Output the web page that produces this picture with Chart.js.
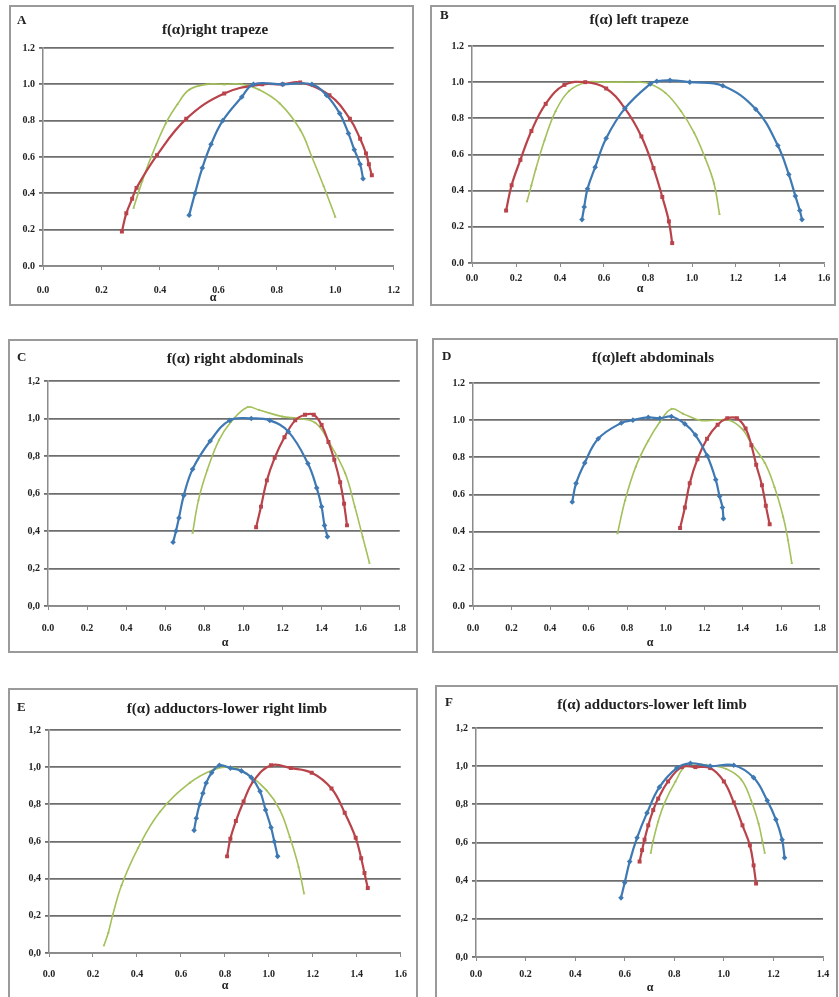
<!DOCTYPE html>
<html>
<head>
<meta charset="utf-8">
<script src="https://cdn.jsdelivr.net/npm/chart.js@4.4.0/dist/chart.umd.min.js"></script>
<style>
  body { margin: 0; background: #fff; width: 839px; height: 997px; position: relative; overflow: hidden; }
  canvas { position: absolute; }
</style>
</head>
<body>
<script>
// series: [alpha, f(alpha)]
// A - right trapeze
const aBlue = [[0.50,0.28],[0.52,0.40],[0.545,0.54],[0.575,0.67],[0.615,0.80],[0.68,0.93],[0.72,1.0],[0.82,1.0],[0.92,1.0],[0.97,0.94],[1.015,0.84],[1.045,0.73],[1.065,0.64],[1.085,0.56],[1.095,0.48]];
const aRed = [[0.27,0.19],[0.285,0.29],[0.305,0.37],[0.32,0.43],[0.39,0.61],[0.49,0.81],[0.62,0.95],[0.75,1.0],[0.82,1.0],[0.88,1.01],[0.98,0.94],[1.05,0.81],[1.085,0.70],[1.105,0.62],[1.115,0.56],[1.125,0.50]];
const aGreen = [[0.31,0.32],[0.34,0.47],[0.37,0.60],[0.42,0.785],[0.46,0.89],[0.50,0.97],[0.56,1.0],[0.62,1.0],[0.68,1.0],[0.74,0.97],[0.81,0.895],[0.88,0.75],[0.92,0.60],[0.96,0.44],[1.0,0.27]];
// B - left trapeze
const bBlue = [[0.50,0.24],[0.51,0.31],[0.525,0.41],[0.56,0.53],[0.61,0.69],[0.695,0.855],[0.81,0.99],[0.84,1.005],[0.90,1.01],[0.99,1.0],[1.14,0.98],[1.29,0.85],[1.39,0.65],[1.44,0.49],[1.47,0.37],[1.49,0.29],[1.50,0.24]];
const bRed = [[0.155,0.29],[0.18,0.43],[0.22,0.57],[0.27,0.73],[0.335,0.88],[0.42,0.985],[0.515,1.0],[0.61,0.965],[0.695,0.855],[0.77,0.70],[0.825,0.525],[0.865,0.365],[0.895,0.23],[0.91,0.11]];
const bGreen = [[0.25,0.34],[0.27,0.43],[0.29,0.52],[0.33,0.68],[0.38,0.84],[0.44,0.95],[0.52,1.0],[0.60,1.0],[0.68,1.0],[0.76,1.0],[0.81,0.99],[0.88,0.94],[0.95,0.84],[1.01,0.72],[1.06,0.58],[1.10,0.44],[1.125,0.27]];
// C - right abdominals
const cBlue = [[0.64,0.34],[0.655,0.40],[0.67,0.47],[0.695,0.59],[0.74,0.73],[0.83,0.88],[0.93,0.99],[1.04,1.0],[1.135,0.99],[1.23,0.93],[1.33,0.76],[1.375,0.63],[1.40,0.53],[1.415,0.43],[1.43,0.37]];
const cRed = [[1.065,0.42],[1.09,0.53],[1.12,0.67],[1.16,0.79],[1.21,0.90],[1.265,0.99],[1.315,1.02],[1.36,1.02],[1.40,0.965],[1.435,0.875],[1.465,0.78],[1.495,0.66],[1.515,0.545],[1.53,0.43]];
const cGreen = [[0.74,0.39],[0.77,0.565],[0.815,0.725],[0.875,0.885],[0.935,0.98],[1.02,1.06],[1.08,1.045],[1.20,1.01],[1.28,1.0],[1.37,0.975],[1.44,0.87],[1.52,0.71],[1.57,0.53],[1.61,0.37],[1.645,0.23]];
// D - left abdominals
const dBlue = [[0.515,0.56],[0.535,0.66],[0.58,0.77],[0.65,0.90],[0.77,0.985],[0.83,1.0],[0.91,1.015],[0.97,1.01],[1.03,1.02],[1.10,0.98],[1.155,0.92],[1.215,0.81],[1.26,0.68],[1.28,0.59],[1.295,0.53],[1.30,0.47]];
const dRed = [[1.075,0.42],[1.10,0.53],[1.125,0.66],[1.165,0.79],[1.215,0.90],[1.27,0.975],[1.32,1.01],[1.37,1.01],[1.415,0.955],[1.445,0.865],[1.47,0.76],[1.50,0.65],[1.52,0.54],[1.54,0.44]];
const dGreen = [[0.75,0.39],[0.79,0.57],[0.845,0.75],[0.91,0.89],[0.97,0.99],[1.03,1.06],[1.09,1.035],[1.175,1.0],[1.26,1.0],[1.33,1.0],[1.395,0.955],[1.445,0.875],[1.515,0.77],[1.565,0.64],[1.61,0.48],[1.635,0.355],[1.655,0.23]];
// E - adductors, lower right limb
const eBlue = [[0.66,0.66],[0.67,0.725],[0.685,0.80],[0.70,0.86],[0.715,0.915],[0.74,0.97],[0.775,1.01],[0.825,0.995],[0.875,0.98],[0.92,0.945],[0.96,0.87],[0.985,0.77],[1.01,0.675],[1.025,0.60],[1.04,0.52]];
const eRed = [[0.81,0.52],[0.825,0.615],[0.85,0.71],[0.885,0.815],[0.93,0.925],[1.01,1.01],[1.10,0.995],[1.195,0.97],[1.285,0.885],[1.345,0.755],[1.395,0.62],[1.42,0.51],[1.435,0.43],[1.45,0.35]];
const eGreen = [[0.25,0.04],[0.27,0.11],[0.29,0.205],[0.33,0.365],[0.405,0.565],[0.505,0.76],[0.64,0.915],[0.745,0.985],[0.825,1.0],[0.90,0.965],[0.99,0.875],[1.05,0.77],[1.095,0.625],[1.135,0.465],[1.16,0.32]];
// F - adductors, lower left limb
const fBlue = [[0.585,0.31],[0.60,0.39],[0.62,0.50],[0.65,0.625],[0.69,0.755],[0.74,0.89],[0.81,0.99],[0.865,1.015],[0.945,1.0],[1.04,1.005],[1.12,0.94],[1.175,0.82],[1.21,0.72],[1.235,0.615],[1.245,0.52]];
const fRed = [[0.66,0.50],[0.67,0.56],[0.68,0.615],[0.695,0.69],[0.715,0.77],[0.735,0.83],[0.775,0.92],[0.83,0.995],[0.885,0.995],[0.945,0.99],[1.0,0.92],[1.04,0.81],[1.075,0.69],[1.105,0.585],[1.12,0.48],[1.13,0.385]];
const fGreen = [[0.705,0.545],[0.715,0.61],[0.735,0.71],[0.76,0.805],[0.805,0.92],[0.85,1.005],[0.93,1.005],[1.01,0.985],[1.07,0.93],[1.11,0.82],[1.14,0.70],[1.155,0.61],[1.165,0.545]];

const letters = ['A', 'B', 'C', 'D', 'E', 'F'];
const titles = ['f(α)right trapeze', 'f(α) left trapeze', 'f(α) right abdominals', 'f(α)left abdominals', 'f(α) adductors-lower right limb', 'f(α) adductors-lower left limb'];
const xMaxes = [1.2, 1.6, 1.8, 1.8, 1.6, 1.4];
const xTickLabels = ['0.0', '0.2', '0.4', '0.6', '0.8', '1.0', '1.2', '1.4', '1.6', '1.8'];
const yTickDot = ['0.0', '0.2', '0.4', '0.6', '0.8', '1.0', '1.2'];
const yTickComma = ['0,0', '0,2', '0,4', '0,6', '0,8', '1,0', '1,2'];
const yTickSets = [yTickDot, yTickDot, yTickComma, yTickDot, yTickComma, yTickComma];
const seriesSets = [[aBlue, aRed, aGreen], [bBlue, bRed, bGreen], [cBlue, cRed, cGreen], [dBlue, dRed, dGreen], [eBlue, eRed, eGreen], [fBlue, fRed, fGreen]];

// page geometry (box and plot area, absolute px)
const layout = [
  { box: [9, 5, 414, 306],   plot: [43, 48, 394, 266],  titleX: 215, titleY: 30,  letter: [17, 21],  gap: 23, alpha: [213, 298] },
  { box: [430, 5, 836, 306], plot: [472, 46, 824, 263], titleX: 639, titleY: 20,  letter: [440, 16], gap: 14, alpha: [640, 289] },
  { box: [8, 339, 418, 653], plot: [48, 381, 402, 606], titleX: 235, titleY: 359, letter: [17, 358], gap: 21, alpha: [225, 643] },
  { box: [432, 338, 838, 653], plot: [473, 383, 826, 606], titleX: 653, titleY: 358, letter: [442, 357], gap: 21, alpha: [650, 643] },
  { box: [8, 688, 418, 999], plot: [49, 730, 401, 953], titleX: 227, titleY: 709, letter: [17, 708], gap: 20, alpha: [225, 986] },
  { box: [435, 685, 838, 999], plot: [476, 728, 823, 957], titleX: 652, titleY: 705, letter: [445, 703], gap: 16, alpha: [650, 988] }
];

const colors = ['#3f79b3', '#b9434a', '#a3c05a'];
const markers = ['rectRot', 'rect', 'triangle'];
const serif = '"Liberation Serif", "DejaVu Serif", serif';
const Y_W = 30, X_H = 30;

const panelText = {
  id: 'panelText',
  beforeDraw(chart, args, o) {
    const ctx = chart.ctx;
    ctx.save();
    ctx.fillStyle = '#fff';
    ctx.fillRect(0, 0, chart.width, chart.height);
    ctx.strokeStyle = '#9a9a9a';
    ctx.lineWidth = 2;
    ctx.strokeRect(1, 1, chart.width - 2, chart.height - 2);
    ctx.restore();
  },
  afterDraw(chart, args, o) {
    const ctx = chart.ctx;
    ctx.save();
    ctx.fillStyle = '#222';
    ctx.textBaseline = 'middle';
    ctx.font = 'bold 13px ' + serif;
    ctx.textAlign = 'left';
    ctx.fillText(o.letter, o.lx, o.ly);
    ctx.font = 'bold 15px ' + serif;
    ctx.textAlign = 'center';
    ctx.fillText(o.title, o.tx, o.ty);
    ctx.font = 'bold 12px ' + serif;
    ctx.fillText('α', o.ax, o.ay);
    ctx.restore();
  }
};

function makePanel(i) {
  const g = layout[i];
  const w = g.box[2] - g.box[0], h = g.box[3] - g.box[1];
  const cv = document.createElement('canvas');
  cv.width = w; cv.height = h;
  cv.style.left = g.box[0] + 'px'; cv.style.top = g.box[1] + 'px';
  cv.style.width = w + 'px'; cv.style.height = h + 'px';
  document.body.appendChild(cv);

  const datasets = seriesSets[i].map((pts, k) => ({
    data: pts.map(p => ({ x: p[0], y: p[1] })),
    showLine: true,
    tension: 0.4,
    borderColor: colors[k],
    backgroundColor: colors[k],
    borderWidth: k === 2 ? 1.6 : 2.2,
    pointStyle: markers[k],
    pointRadius: k === 2 ? 1.6 : 2.8,
    pointBorderWidth: 0
  }));

  const yLabels = yTickSets[i];
  new Chart(cv, {
    type: 'scatter',
    data: { datasets },
    options: {
      responsive: false,
      animation: false,
      devicePixelRatio: 1,
      layout: {
        padding: {
          left: g.plot[0] - g.box[0] - Y_W,
          top: g.plot[1] - g.box[1],
          right: g.box[2] - g.plot[2],
          bottom: g.box[3] - g.plot[3] - X_H
        }
      },
      plugins: {
        legend: { display: false },
        tooltip: { enabled: false },
        panelText: {
          letter: letters[i], title: titles[i],
          lx: g.letter[0] - g.box[0], ly: g.letter[1] - g.box[1],
          tx: g.titleX - g.box[0], ty: g.titleY - g.box[1],
          ax: g.alpha[0] - g.box[0], ay: g.alpha[1] - g.box[1]
        }
      },
      scales: {
        x: {
          type: 'linear', min: 0, max: xMaxes[i],
          afterFit(s) { s.height = X_H; },
          border: { display: true, color: '#8a8a8a', width: 1.5 },
          grid: { drawOnChartArea: false, drawTicks: true, tickLength: 4, color: '#8a8a8a' },
          ticks: {
            stepSize: 0.2, padding: g.gap - 9, color: '#222',
            font: { family: serif, size: 10, weight: 'bold' },
            callback: (v, idx) => xTickLabels[idx]
          }
        },
        y: {
          type: 'linear', min: 0, max: 1.2,
          afterFit(s) { s.width = Y_W; },
          border: { display: true, color: '#8a8a8a', width: 1.5 },
          grid: { color: '#6e6e6e', lineWidth: 1.8, tickLength: 4 },
          ticks: {
            stepSize: 0.2, padding: 4, color: '#222',
            font: { family: serif, size: 10, weight: 'bold' },
            callback: (v, idx) => yLabels[idx]
          }
        }
      }
    },
    plugins: [panelText]
  });
}

for (let i = 0; i < 6; i++) makePanel(i);
</script>
</body>
</html>
